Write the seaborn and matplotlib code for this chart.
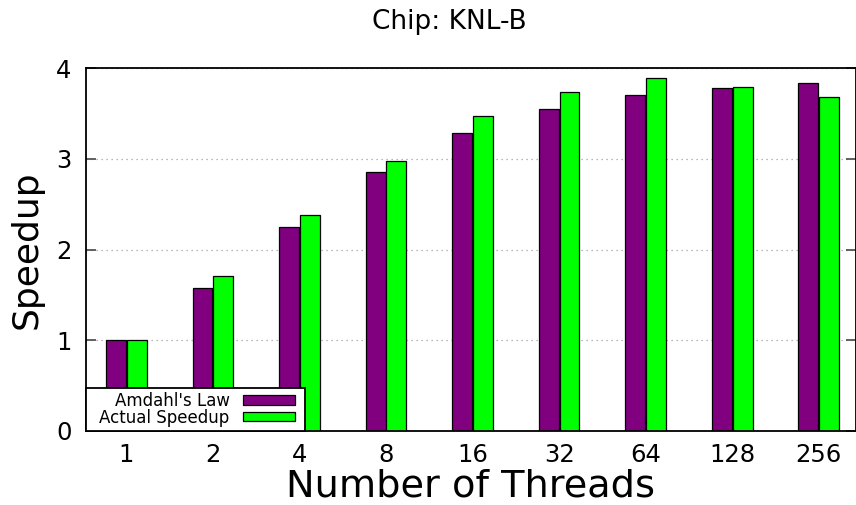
import matplotlib
matplotlib.use("Agg")
import matplotlib.pyplot as plt
import matplotlib.patches as mpatches
from matplotlib.legend_handler import HandlerPatch
import seaborn as sns
import pandas as pd

threads = ["1", "2", "4", "8", "16", "32", "64", "128", "256"]
amdahl = [1.00, 1.58, 2.25, 2.85, 3.28, 3.55, 3.70, 3.78, 3.83]
actual = [1.00, 1.71, 2.38, 2.98, 3.47, 3.74, 3.89, 3.79, 3.68]
series_names = ["Amdahl's Law", "Actual Speedup"]
colors = ["#800080", "#00ff00"]

df = pd.DataFrame({
    "threads": threads * 2,
    "speedup": amdahl + actual,
    "series": [series_names[0]] * len(threads) + [series_names[1]] * len(threads),
})

sns.set_theme(style="white")
plt.rcParams["font.family"] = ["DejaVu Sans"]
plt.rcParams["text.color"] = "black"
plt.rcParams["axes.labelcolor"] = "black"

DPI = 100
fig = plt.figure(figsize=(8.56, 5.05), dpi=DPI)
ax = fig.add_axes([85.5 / 856, (505 - 431) / 505, (856 - 85.5) / 856, (431 - 68) / 505])

sns.barplot(data=df, x="threads", y="speedup", hue="series", order=threads,
            hue_order=series_names, palette=colors, width=0.48, gap=0.04,
            edgecolor="black", linewidth=0.9, saturation=1, ax=ax, legend=True)

ax.set_xlim(-0.472, 8.43)
ax.set_ylim(0, 4)
ax.set_yticks([0, 1, 2, 3, 4])
ax.yaxis.grid(True, color="#a0a0a0", linestyle=(0, (1, 3)), linewidth=0.9)
ax.set_axisbelow(True)
for s in ["left", "bottom", "top", "right"]:
    ax.spines[s].set_visible(True)
    ax.spines[s].set_color("black")
    ax.spines[s].set_linewidth(1.3)

ax.tick_params(axis="y", direction="in", length=7, width=1.3, color="#555555",
               left=True, right=True, labelsize=17.5, pad=10, labelcolor="black")
ax.tick_params(axis="x", length=0, labelsize=17.5, pad=9, labelcolor="black")

ax.set_xlabel("Number of Threads", fontsize=27.5, labelpad=1, color="black")
ax.set_ylabel("Speedup", fontsize=26, labelpad=9, color="black")
fig.text(449 / 856, 1 - 22 / 505, "Chip: KNL-B", ha="center", va="center",
         fontsize=19, color="black")

old = ax.get_legend()
if old is not None:
    old.remove()
handles, labels = ax.get_legend_handles_labels()

fs = 12
fs_px = fs * DPI / 72
pad_px = 4.3
swatch_w_px = 52
right_gap_px = 10
extra_left = 14 - pad_px


def make_swatch(legend, orig_handle, xdescent, ydescent, width, height, fontsize):
    w = swatch_w_px * 72 / DPI
    return mpatches.Rectangle((-xdescent, -ydescent), w, height)


leg = ax.legend(handles, labels, loc="lower left", bbox_to_anchor=(0, 0),
                borderaxespad=0, markerfirst=False, fontsize=fs,
                handlelength=(swatch_w_px + right_gap_px - pad_px) / fs_px,
                handleheight=8 / fs_px,
                handletextpad=(13 + extra_left) / fs_px,
                labelspacing=-1.3 / fs_px, borderpad=pad_px / fs_px,
                fancybox=False, framealpha=1, edgecolor="black",
                labelcolor="black",
                handler_map={mpatches.Rectangle: HandlerPatch(patch_func=make_swatch)})
leg.get_frame().set_linewidth(1.3)

# right-align the legend labels (gnuplot style)
r = fig.canvas.get_renderer()
texts = leg.get_texts()
fig.canvas.draw()
x_base = texts[0].get_window_extent(r).x0
texts[0].set_position((10, 0))
fig.canvas.draw()
k = (texts[0].get_window_extent(r).x0 - x_base) / 10.0
if abs(k) < 1e-6:
    k = 1.0
texts[0].set_position((0, 0))
fig.canvas.draw()
ext = [t.get_window_extent(r) for t in texts]
right = max(e.x1 for e in ext) + extra_left
for t, e in zip(texts, ext):
    t.set_position(((right - e.x1) / k, 0))

fig.savefig("out.png", dpi=DPI)
